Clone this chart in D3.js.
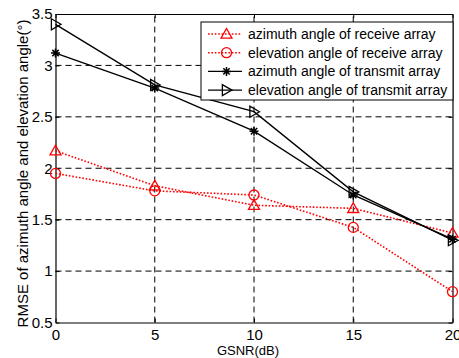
<!DOCTYPE html>
<html>
<head>
<meta charset="utf-8">
<script src="https://cdn.jsdelivr.net/npm/d3@7"></script>
<style>
  html, body { margin: 0; padding: 0; background: #fff; }
  svg { display: block; font-family: "Liberation Sans", Arial, sans-serif; }
</style>
</head>
<body>
<svg id="chart" width="459" height="358"></svg>
<script>
// GSNR values (dB) on the x axis
const gsnr = [0, 5, 10, 15, 20];

// RMSE of each angle estimate (degrees)
const azimuthReceive   = [2.17, 1.83, 1.64, 1.61, 1.37];
const elevationReceive = [1.95, 1.78, 1.74, 1.425, 0.80];
const azimuthTransmit  = [3.12, 2.78, 2.36, 1.74, 1.31];
const elevationTransmit = [3.40, 2.81, 2.55, 1.77, 1.30];

const seriesNames = [
  "azimuth angle of receive array",
  "elevation angle of receive array",
  "azimuth angle of transmit array",
  "elevation angle of transmit array"
];

const xTicks = [0, 5, 10, 15, 20];
const yTicks = [0.5, 1, 1.5, 2, 2.5, 3, 3.5];

const series = [
  { name: seriesNames[0], values: azimuthReceive,    color: "#ff0000", dotted: true,  marker: "triUp" },
  { name: seriesNames[1], values: elevationReceive,  color: "#ff0000", dotted: true,  marker: "circle" },
  { name: seriesNames[2], values: azimuthTransmit,   color: "#000000", dotted: false, marker: "star" },
  { name: seriesNames[3], values: elevationTransmit, color: "#000000", dotted: false, marker: "triRight" }
];

const margin = { left: 55.5, right: 6.5, top: 14, bottom: 35.5 };
const W = 459, H = 358;
const svg = d3.select("#chart");

const x = d3.scaleLinear().domain([0, 20]).range([margin.left, W - margin.right]);
const y = d3.scaleLinear().domain([0.5, 3.5]).range([H - margin.bottom, margin.top]);

// dashed grid
const grid = svg.append("g").attr("stroke", "#000").attr("stroke-width", 1)
  .attr("stroke-dasharray", "6,4").attr("fill", "none");
grid.selectAll("line.gx").data(xTicks.slice(1, -1)).join("line")
  .attr("class", "gx")
  .attr("x1", d => x(d)).attr("x2", d => x(d))
  .attr("y1", y(0.5)).attr("y2", y(3.5));
grid.selectAll("line.gy").data(yTicks.slice(1, -1)).join("line")
  .attr("class", "gy")
  .attr("x1", x(0)).attr("x2", x(20))
  .attr("y1", d => y(d)).attr("y2", d => y(d));

// axes with inward ticks
const axisStyle = g => {
  g.selectAll(".domain").attr("stroke", "#000").attr("stroke-width", 1.2);
  g.selectAll(".tick line").attr("stroke", "#000");
  g.selectAll(".tick text").attr("fill", "#000").attr("font-size", 15)
    .attr("font-family", "Liberation Sans, Arial, sans-serif");
};
svg.append("g").attr("transform", `translate(0,${y(0.5)})`)
  .call(d3.axisBottom(x).tickValues(xTicks).tickFormat(d3.format("d")).tickSizeInner(-4).tickSizeOuter(0).tickPadding(7))
  .call(axisStyle);
svg.append("g").attr("transform", `translate(${x(0)},0)`)
  .call(d3.axisLeft(y).tickValues(yTicks).tickFormat(d => String(d)).tickSizeInner(-4).tickSizeOuter(0).tickPadding(3))
  .call(axisStyle);
svg.append("g").attr("transform", `translate(0,${y(3.5)})`)
  .call(d3.axisTop(x).tickValues(xTicks).tickFormat("").tickSizeInner(-4).tickSizeOuter(0))
  .call(axisStyle);
svg.append("g").attr("transform", `translate(${x(20)},0)`)
  .call(d3.axisRight(y).tickValues(yTicks).tickFormat("").tickSizeInner(-4).tickSizeOuter(0))
  .call(axisStyle);

// axis titles
svg.append("text").attr("x", 248).attr("y", 355).attr("text-anchor", "middle")
  .attr("font-size", 13).text("GSNR(dB)");
svg.append("text").attr("transform", `translate(28,173.5) rotate(-90)`)
  .attr("text-anchor", "middle").attr("font-size", 15)
  .text("RMSE of azimuth angle and elevation angle(°)");

// marker drawing
function drawMarker(g, type, cx, cy, color) {
  const s = 5.5;
  if (type === "triUp") {
    g.append("path").attr("d", `M${cx},${cy - s}L${cx + s},${cy + s * 0.75}L${cx - s},${cy + s * 0.75}Z`)
      .attr("fill", "none").attr("stroke", color).attr("stroke-width", 1.3);
  } else if (type === "triRight") {
    g.append("path").attr("d", `M${cx + s},${cy}L${cx - s * 0.75},${cy - s}L${cx - s * 0.75},${cy + s}Z`)
      .attr("fill", "none").attr("stroke", color).attr("stroke-width", 1.3);
  } else if (type === "circle") {
    g.append("circle").attr("cx", cx).attr("cy", cy).attr("r", 5)
      .attr("fill", "none").attr("stroke", color).attr("stroke-width", 1.3);
  } else if (type === "star") {
    const r = 4.5;
    const p = [];
    for (let k = 0; k < 4; k++) {
      const a = k * Math.PI / 4;
      p.push(`M${cx - r * Math.cos(a)},${cy - r * Math.sin(a)}L${cx + r * Math.cos(a)},${cy + r * Math.sin(a)}`);
    }
    g.append("path").attr("d", p.join("")).attr("stroke", color).attr("stroke-width", 1.5);
  }
}

const line = d3.line().x((d, i) => x(gsnr[i])).y(d => y(d));

const plot = svg.append("g");
series.forEach(s => {
  plot.append("path").datum(s.values).attr("d", line)
    .attr("fill", "none").attr("stroke", s.color)
    .attr("stroke-width", s.dotted ? 1.6 : 1.4)
    .attr("stroke-dasharray", s.dotted ? "1.6,1.8" : null);
  s.values.forEach((v, i) => drawMarker(plot, s.marker, x(gsnr[i]), y(v), s.color));
});

// legend
const lg = svg.append("g");
const lx = 201, ly = 22, lw = 252, lh = 78;
lg.append("rect").attr("x", lx).attr("y", ly).attr("width", lw).attr("height", lh)
  .attr("fill", "#fff").attr("stroke", "#000").attr("stroke-width", 1);
series.forEach((s, i) => {
  const cy = ly + 12 + i * 18.7;
  lg.append("line").attr("x1", lx + 7).attr("x2", lx + 41).attr("y1", cy).attr("y2", cy)
    .attr("stroke", s.color).attr("stroke-width", s.dotted ? 1.6 : 1.4)
    .attr("stroke-dasharray", s.dotted ? "1.6,1.8" : null);
  drawMarker(lg, s.marker, lx + 25.5, cy, s.color);
  lg.append("text").attr("x", lx + 47).attr("y", cy + 5).attr("font-size", 14)
    .attr("fill", "#000").text(s.name);
});
</script>
</body>
</html>
